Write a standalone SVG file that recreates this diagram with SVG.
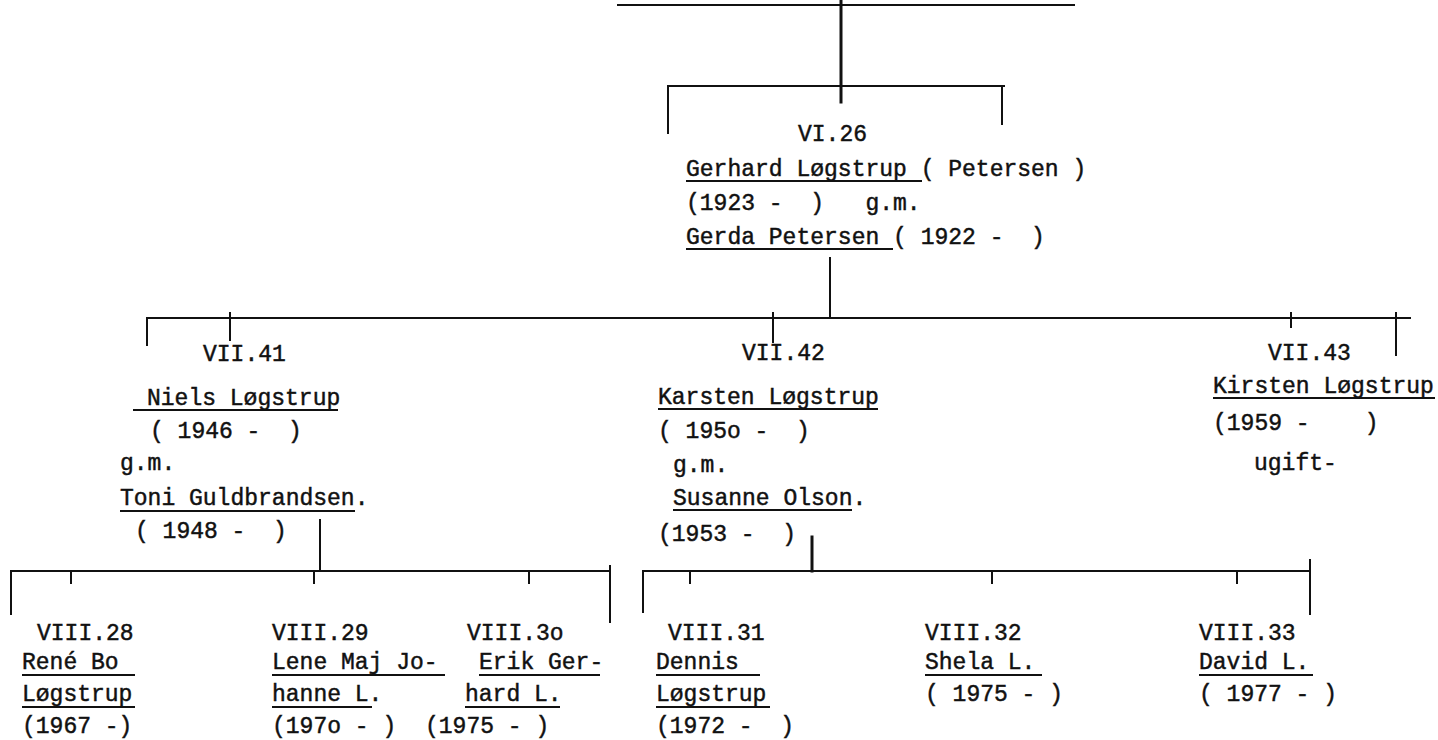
<svg xmlns="http://www.w3.org/2000/svg" width="1438" height="740" viewBox="0 0 1438 740">
<style>
  text { font-family: "Liberation Mono", "DejaVu Sans Mono", monospace; font-size: 23px; fill: #111; stroke: #111; stroke-width: 0.45; white-space: pre; }
  .ln { stroke: #111; stroke-width: 2; fill: none; stroke-linecap: square; }
  .thick { stroke-width: 3; }
  .ul { stroke: #111; stroke-width: 1.8; }
</style>
<rect width="1438" height="740" fill="#fff"/>
<g id="connectors">
  <line class="ul" x1="617" y1="5" x2="1075" y2="5"/>
  <line class="ln thick" x1="841" y1="0" x2="841" y2="102"/>
  <line class="ln" x1="668" y1="86" x2="1004" y2="86"/>
  <line class="ln" x1="668" y1="86" x2="668" y2="133"/>
  <line class="ln" x1="1002" y1="86" x2="1002" y2="124"/>
  <line class="ln" x1="830" y1="258" x2="830" y2="318"/>
  <line class="ln" x1="147" y1="318" x2="1410" y2="318"/>
  <line class="ln" x1="147" y1="318" x2="147" y2="345"/>
  <line class="ln" x1="230" y1="313" x2="230" y2="340"/>
  <line class="ln" x1="773" y1="313" x2="773" y2="342"/>
  <line class="ln" x1="1291" y1="313" x2="1291" y2="327"/>
  <line class="ln" x1="1396" y1="313" x2="1396" y2="355"/>
  <line class="ln" x1="320" y1="520" x2="320" y2="571"/>
  <line class="ln" x1="11" y1="571" x2="610" y2="571"/>
  <line class="ln" x1="11" y1="571" x2="11" y2="614"/>
  <line class="ln" x1="71" y1="571" x2="71" y2="583"/>
  <line class="ln" x1="314" y1="571" x2="314" y2="583"/>
  <line class="ln" x1="529" y1="571" x2="529" y2="583"/>
  <line class="ln" x1="610" y1="566" x2="610" y2="622"/>
  <line class="ln thick" x1="812" y1="537" x2="812" y2="571"/>
  <line class="ln" x1="643" y1="571" x2="1310" y2="571"/>
  <line class="ln" x1="643" y1="571" x2="643" y2="612"/>
  <line class="ln" x1="690" y1="571" x2="690" y2="583"/>
  <line class="ln" x1="992" y1="571" x2="992" y2="583"/>
  <line class="ln" x1="1237" y1="571" x2="1237" y2="583"/>
  <line class="ln" x1="1310" y1="560" x2="1310" y2="614"/>
</g>
<g id="node-VI26">
  <text x="798" y="141">VI.26</text>
  <text x="686" y="176">Gerhard Løgstrup ( Petersen )</text>
  <line class="ul" x1="686" y1="181" x2="922" y2="181"/>
  <text x="686" y="210">(1923 -  )   g.m.</text>
  <text x="686" y="244">Gerda Petersen ( 1922 -  )</text>
  <line class="ul" x1="686" y1="249" x2="893" y2="249"/>
</g>
<g id="node-VII41">
  <text x="203" y="361">VII.41</text>
  <text x="147" y="405">Niels Løgstrup</text>
  <line class="ul" x1="133" y1="410" x2="338" y2="410"/>
  <text x="150" y="438">( 1946 -  )</text>
  <text x="120" y="470">g.m.</text>
  <text x="120" y="505">Toni Guldbrandsen.</text>
  <line class="ul" x1="120" y1="511" x2="355" y2="511"/>
  <text x="135" y="538">( 1948 -  )</text>
</g>
<g id="node-VII42">
  <text x="742" y="360">VII.42</text>
  <text x="658" y="404">Karsten Løgstrup</text>
  <line class="ul" x1="658" y1="409" x2="878" y2="409"/>
  <text x="658" y="438">( 195o -  )</text>
  <text x="673" y="472">g.m.</text>
  <text x="673" y="505">Susanne Olson.</text>
  <line class="ul" x1="673" y1="510" x2="852" y2="510"/>
  <text x="658" y="541">(1953 -  )</text>
</g>
<g id="node-VII43">
  <text x="1268" y="360">VII.43</text>
  <text x="1213" y="393">Kirsten Løgstrup</text>
  <line class="ul" x1="1213" y1="398" x2="1435" y2="398"/>
  <text x="1213" y="430">(1959 -    )</text>
  <text x="1254" y="470">ugift-</text>
</g>
<g id="node-VIII28">
  <text x="37" y="640">VIII.28</text>
  <text x="22" y="669">René Bo</text>
  <line class="ul" x1="22" y1="675" x2="135" y2="675"/>
  <text x="22" y="701">Løgstrup</text>
  <line class="ul" x1="22" y1="707" x2="135" y2="707"/>
  <text x="22" y="733">(1967 -)</text>
</g>
<g id="node-VIII29">
  <text x="272" y="640">VIII.29</text>
  <text x="272" y="669">Lene Maj Jo-</text>
  <line class="ul" x1="272" y1="675" x2="445" y2="675"/>
  <text x="272" y="701">hanne L.</text>
  <line class="ul" x1="272" y1="707" x2="372" y2="707"/>
  <text x="272" y="733">(197o - )</text>
</g>
<g id="node-VIII30">
  <text x="467" y="640">VIII.3o</text>
  <text x="479" y="669">Erik Ger-</text>
  <line class="ul" x1="479" y1="675" x2="600" y2="675"/>
  <text x="465" y="701">hard L.</text>
  <line class="ul" x1="465" y1="707" x2="560" y2="707"/>
  <text x="425" y="733">(1975 - )</text>
</g>
<g id="node-VIII31">
  <text x="668" y="640">VIII.31</text>
  <text x="656" y="669">Dennis</text>
  <line class="ul" x1="656" y1="675" x2="760" y2="675"/>
  <text x="656" y="701">Løgstrup</text>
  <line class="ul" x1="656" y1="707" x2="770" y2="707"/>
  <text x="656" y="733">(1972 -  )</text>
</g>
<g id="node-VIII32">
  <text x="925" y="640">VIII.32</text>
  <text x="925" y="669">Shela L.</text>
  <line class="ul" x1="925" y1="675" x2="1042" y2="675"/>
  <text x="925" y="701">( 1975 - )</text>
</g>
<g id="node-VIII33">
  <text x="1199" y="640">VIII.33</text>
  <text x="1199" y="669">David L.</text>
  <line class="ul" x1="1199" y1="675" x2="1313" y2="675"/>
  <text x="1199" y="701">( 1977 - )</text>
</g>
</svg>
